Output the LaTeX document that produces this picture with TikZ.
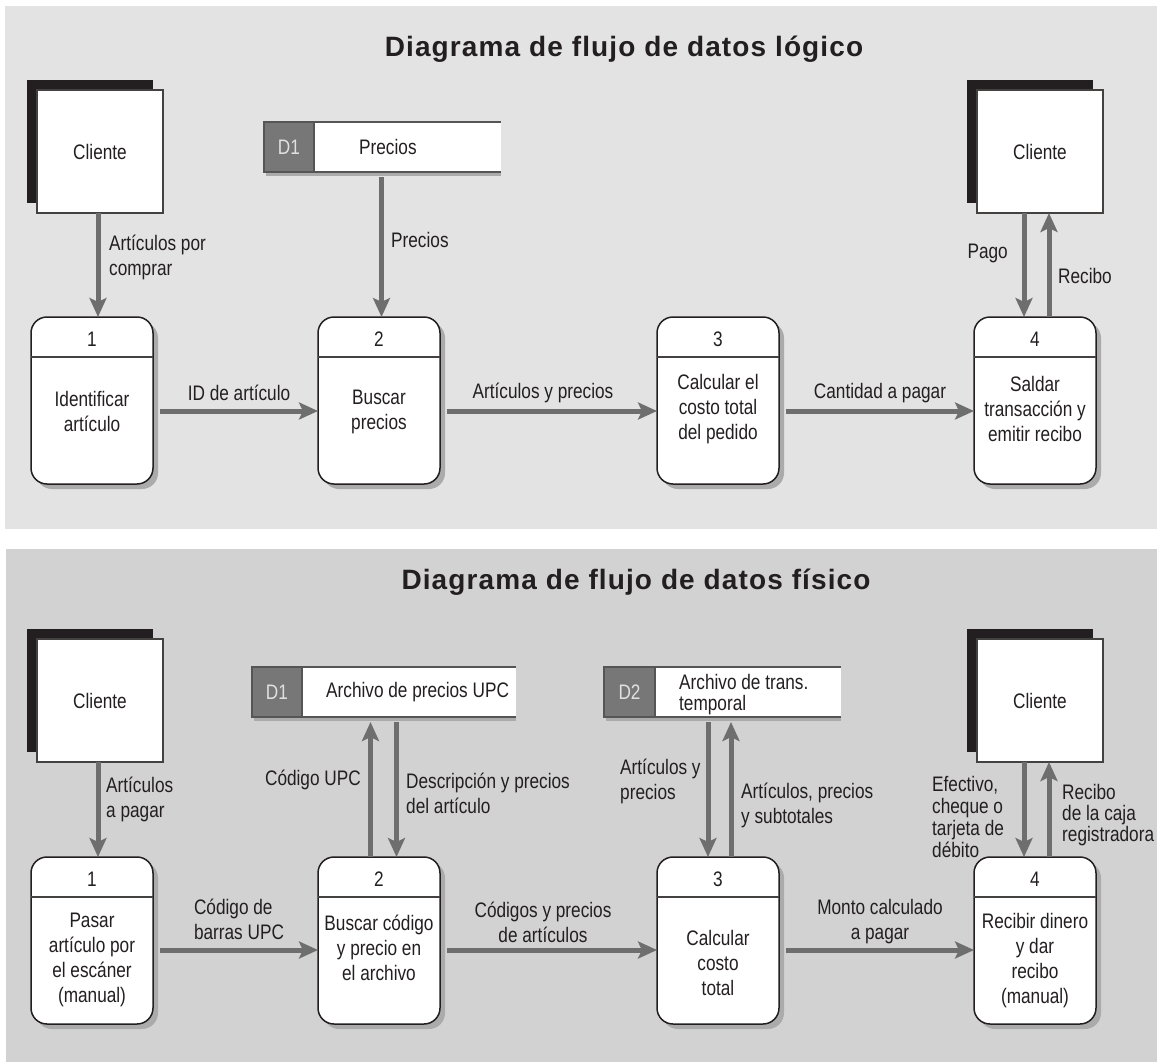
\documentclass[tikz,border=0pt]{standalone}
\usepackage{fontspec}
\setmainfont{Liberation Sans}[FakeStretch=0.82]
\newfontfamily\ttlfont{Liberation Sans}[LetterSpace=4]
\usetikzlibrary{arrows.meta,calc}
\definecolor{panelA}{HTML}{E3E3E3}
\definecolor{panelB}{HTML}{D2D2D2}
\definecolor{ink}{HTML}{231F20}
\definecolor{arrowgray}{HTML}{6E6E6E}
\definecolor{iddark}{HTML}{777777}
\definecolor{storeline}{HTML}{555555}
\definecolor{procshadow}{HTML}{ABABAB}
\tikzset{
  txt/.style={font=\fontsize{21}{25}\selectfont, text=ink, inner sep=0pt},
  ttl/.style={font=\ttlfont\bfseries\fontsize{28}{32}\selectfont, text=ink, inner sep=0pt},
  flow/.style={draw=arrowgray, line width=5pt, -{Stealth[length=19pt,width=17pt,inset=4pt]}},
  entity/.style={draw=ink!85, line width=1.2pt, fill=white, txt, minimum width=126pt, minimum height=123pt, outer sep=0pt},
  proc/.style={draw=ink, line width=1.5pt, fill=white, rounded corners=16pt, minimum width=122pt, minimum height=167pt, inner sep=0pt, outer sep=0pt},
  procrule/.style={draw=ink!85, line width=1.4pt},
  storebox/.style={fill=white, minimum height=50pt, inner sep=0pt, outer sep=0pt},
  storeedge/.style={draw=storeline, line width=1.4pt},
}
\newcommand\procbox[6]{%
  \fill[procshadow, rounded corners=16pt] (#2+5,#3+5) rectangle ++(122,167);
  \node[proc, anchor=north west] (#1) at (#2,#3) {};
  \draw[procrule] ([yshift=-40pt]#1.north west) -- ([yshift=-40pt]#1.north east);
  \node[txt] at ([yshift=-22pt]#1.north) {#4};
  \node[txt, align=center] at (#1.center |- 0,#6) {#5};
}
\newcommand\entitybox[4]{% name, left, top, text
  \fill[ink] (#2-10,#3-10) rectangle ++(126,123);
  \node[entity, anchor=north west] (#1) at (#2,#3) {#4};
}
\newcommand\storebox[6]{% name, left, top, width, darkwidth, id
  \fill[procshadow] (#2+2,#3+50) rectangle ++(#4-2,4);
  \node[storebox, minimum width=#4pt, anchor=north west] (#1) at (#2,#3) {};
  \fill[iddark] (#1.north west) rectangle ([xshift=#5pt]#1.south west);
  \draw[storeedge] ([xshift=#5pt]#1.north west) -- ([xshift=#5pt]#1.south west);
  \draw[storeedge] (#1.north east) -- (#1.north west) -- (#1.south west) -- (#1.south east);
  \node[txt, text=white!88!black] at ($(#1.west)+(#5/2,0)$) {#6};
}
\begin{document}
\begin{tikzpicture}[x=1pt,y=-1pt]
\useasboundingbox (0,0) rectangle (1157,1063);
\fill[white] (0,0) rectangle (1157,1063);
% panels
\fill[panelA] (5,6) rectangle (1157,529);
\fill[panelB] (6,549) rectangle (1157,1062);
\node[ttl] (t1) at (624,49) {Diagrama de flujo de datos lógico};
\node[ttl] (t2) at (636,582) {Diagrama de flujo de datos físico};

% ================= TOP: logical =================
\entitybox{cla}{37}{90}{Cliente}
\entitybox{clb}{977}{90}{Cliente}
\storebox{dat}{264}{122}{237}{50}{D1}
\node[txt, anchor=west] (datx) at (359,147) {Precios};

\procbox{pa}{31}{317}{1}{Identificar\\artículo}{411}
\procbox{pb}{318}{317}{2}{Buscar\\precios}{412}
\procbox{pc}{657}{317}{3}{Calcular el\\costo total\\del pedido}{409}
\procbox{pd}{974}{317}{4}{Saldar\\transacción y\\emitir recibo}{409}

\draw[flow] ($(pa.north |- cla.south)+(6,0)$) -- ($(pa.north)+(6,0)$);
\node[txt, anchor=west, align=left] (la1) at (109,257) {Artículos por\\comprar};
\draw[flow] ($(pb.north |- dat.south)+(2.5,5)$) -- ($(pb.north)+(2.5,0)$);
\node[txt, anchor=west] (la2) at (391,240) {Precios};

\draw[flow] ($(pa.east)+(7,10.5)$) -- ($(pb.west)+(0,10.5)$)
  node[txt, midway, yshift=18pt] (la3) {ID de artículo};
\draw[flow] ($(pb.east)+(7,10.5)$) -- ($(pc.west)+(0,10.5)$)
  node[txt, midway, yshift=18pt, xshift=-9pt] (la4) {Artículos y precios};
\draw[flow] ($(pc.east)+(7,10.5)$) -- ($(pd.west)+(0,10.5)$)
  node[txt, midway, yshift=18pt] (la5) {Cantidad a pagar};

\draw[flow] ($(pd.north |- clb.south)+(-11,0)$) -- ($(pd.north)+(-11,0)$);
\draw[flow] ($(pd.north)+(14,0)$) -- ($(pd.north |- clb.south)+(14,0)$);
\node[txt, anchor=east] (la6) at (1008,253) {Pago};
\node[txt, anchor=west] (la7) at (1058,276) {Recibo};

% ================= BOTTOM: physical =================
\entitybox{clc}{37}{639}{Cliente}
\entitybox{cld}{977}{639}{Cliente}
\storebox{dbt}{252}{667}{264}{50}{D1}
\node[txt, anchor=west] (dbtx) at (326,692) {Archivo de precios UPC};
\storebox{dct}{604}{667}{237}{51}{D2}
\node[txt, anchor=west, align=left, font=\fontsize{21}{21}\selectfont] (dctx) at (679,695) {Archivo de trans.\\temporal};

\procbox{qa}{31}{857}{1}{Pasar\\artículo por\\el escáner\\(manual)}{960}
\procbox{qb}{318}{857}{2}{Buscar código\\y precio en\\el archivo}{948}
\procbox{qc}{657}{857}{3}{Calcular\\costo\\total}{963}
\procbox{qd}{974}{857}{4}{Recibir dinero\\y dar\\recibo\\(manual)}{961}

\draw[flow] ($(qa.north |- clc.south)+(6,0)$) -- ($(qa.north)+(6,0)$);
\node[txt, anchor=west, align=left] (lb1) at (106,799) {Artículos\\a pagar};

\draw[flow] ($(qb.north)+(-8.5,0)$) -- ($(qb.north |- dbt.south)+(-8.5,5)$);
\draw[flow] ($(qb.north |- dbt.south)+(17.5,5)$) -- ($(qb.north)+(17.5,0)$);
\node[txt, anchor=east] (lb2) at (361,780) {Código UPC};
\node[txt, anchor=west, align=left] (lb3) at (406,793) {Descripción y precios\\del artículo};

\draw[flow] ($(qc.north |- dct.south)+(-10,5)$) -- ($(qc.north)+(-10,0)$);
\draw[flow] ($(qc.north)+(13,0)$) -- ($(qc.north |- dct.south)+(13,5)$);
\node[txt, anchor=west, align=left] (lb4) at (620,781) {Artículos y\\precios};
\node[txt, anchor=west, align=left] (lb5) at (741,805) {Artículos, precios\\y subtotales};

\draw[flow] ($(qa.east)+(7,9.5)$) -- ($(qb.west)+(0,9.5)$)
  node[txt, midway, yshift=31pt, align=left] (lb6) {Código de\\barras UPC};
\draw[flow] ($(qb.east)+(7,9.5)$) -- ($(qc.west)+(0,9.5)$)
  node[txt, midway, yshift=28pt, xshift=-9pt, align=center] (lb7) {Códigos y precios\\de artículos};
\draw[flow] ($(qc.east)+(7,9.5)$) -- ($(qd.west)+(0,9.5)$)
  node[txt, midway, yshift=28pt, align=center] (lb8) {Monto calculado\\a pagar};

\draw[flow] ($(qd.north |- cld.south)+(-11,0)$) -- ($(qd.north)+(-11,0)$);
\draw[flow] ($(qd.north)+(14,0)$) -- ($(qd.north |- cld.south)+(14,0)$);
\node[txt, anchor=west, align=left, font=\fontsize{21}{22}\selectfont] (lb9) at (932,817) {Efectivo,\\cheque o\\tarjeta de\\débito};
\node[txt, anchor=west, align=left, font=\fontsize{21}{21}\selectfont] (lb10) at (1062,815) {Recibo\\de la caja\\registradora};
\end{tikzpicture}
\end{document}
